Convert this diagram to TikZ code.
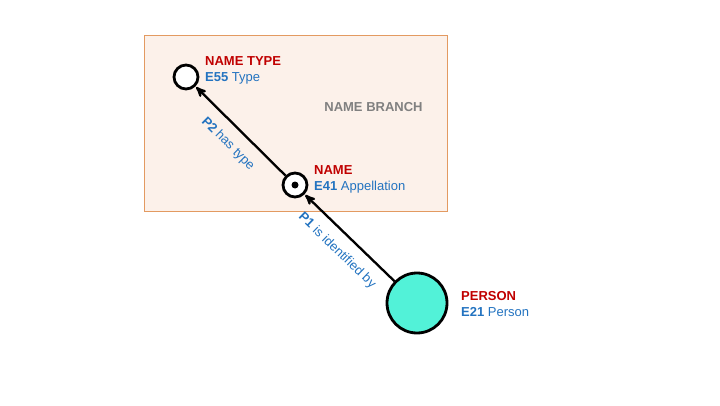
\documentclass[tikz,border=0pt]{standalone}
\usepackage{fontspec}
\setmainfont{Liberation Sans}
\usetikzlibrary{arrows}
\definecolor{crmred}{HTML}{C00000}
\definecolor{crmblue}{HTML}{2373C0}
\definecolor{branchgray}{HTML}{808080}
\definecolor{branchfill}{HTML}{FCF1EA}
\definecolor{branchline}{HTML}{E39A61}
\definecolor{personfill}{HTML}{52F2D8}

\begin{document}
\begin{tikzpicture}[x=1pt,y=1pt,->,>=stealth',shorten >=1pt,
  main node/.style={circle,draw,line width=2.8pt,inner sep=0pt,fill=white,minimum size=24pt},
  text node/.style={align=left,anchor=west,inner sep=0pt,font=\fontsize{13}{16}\selectfont}]
  \useasboundingbox (0,0) rectangle (720,405);
  \draw[-,fill=branchfill,draw=branchline,line width=1pt] (144,194) rectangle (447,369);

  \node[main node] (1) at (186,328) {};
  \node[main node] (2) at (295,220) {};
  \node[main node, fill=personfill, minimum size=60pt] (3) at (417,102) {};
  \fill[-] (2.center) circle (3.5);

  \node[text node] (4) at (205,335) {\textcolor{crmred}{\textbf{NAME TYPE}}\\ \textcolor{crmblue}{\textbf{E55} Type}};
  \node[text node] (5) at (314,226) {\textcolor{crmred}{\textbf{NAME}}\\ \textcolor{crmblue}{\textbf{E41} Appellation}};
  \node[text node] (6) at (461,101) {\textcolor{crmred}{\textbf{PERSON}}\\ \textcolor{crmblue}{\textbf{E21} Person}};
  \node[text node, anchor=center, text=branchgray] (7) at (373.5,297.5) {\textbf{NAME BRANCH}};

  \path[line width=2.3pt,every node/.style={font=\fontsize{13}{16}\selectfont,text=crmblue,sloped,below,inner sep=2pt,outer sep=10pt}]
(3) edge [] node {\textbf{P1} is identified by} (2)
(2) edge [] node {\textbf{P2} has type} (1)
 ;
\end{tikzpicture}
\end{document}
